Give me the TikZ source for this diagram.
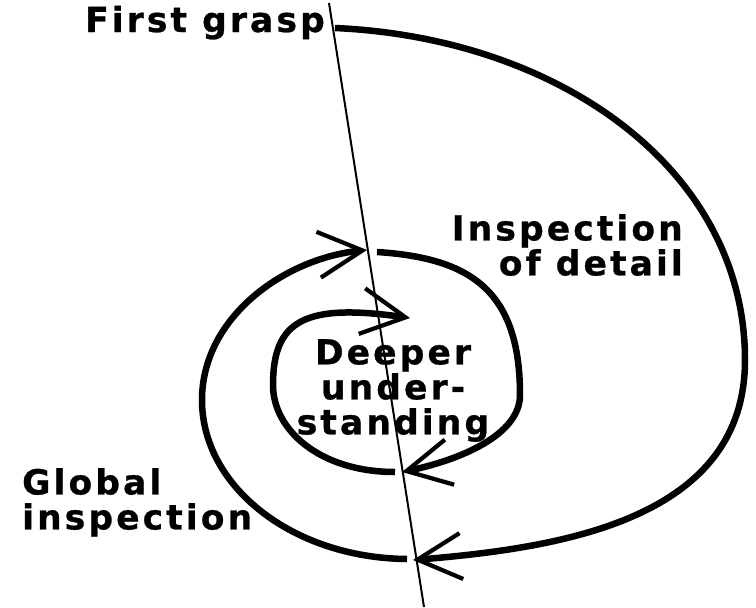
\documentclass[tikz,border=0pt]{standalone}
\usepackage{fontspec}
\newfontfamily\labelfont{DejaVu Sans}[LetterSpace=9, FakeBold=0.8]
\usetikzlibrary{arrows.meta}

\begin{document}
\begin{tikzpicture}[x=1pt, y=-1pt,
  spiral/.style={line width=6.5pt, -{Straight Barb[length=44pt,width=46pt,line width=4.2pt]}},
  guide/.style={line width=2pt},
  lbl/.style={inner sep=0pt, font=\labelfont\bfseries\fontsize{34.5}{35}\selectfont}]
  \useasboundingbox (0,0) rectangle (756,608);
  % 斜めの基準線
  \draw[guide] (329,3) -- (424,607);
  % 外側の巻き (First grasp -> 下)
  \draw[spiral] (335,28) .. controls (560,38) and (745,170) .. (745,360)
    .. controls (745,520) and (560,548) .. (413,560);
  % 2番目の巻き (Global inspection)
  \draw[spiral] (407,559) .. controls (293,558) and (202,487) .. (202,400)
    .. controls (202,317) and (285,258) .. (367,250);
  % 3番目の巻き (Inspection of detail)
  \draw[spiral] (377,252) .. controls (470,258) and (520,290) .. (520,395)
    .. controls (520,435) and (460,460) .. (402,472);
  % 内側の巻き (Deeper understanding)
  \draw[spiral] (395,472) .. controls (320,472) and (273,430) .. (273,385)
    .. controls (273,320) and (305,303) .. (410,318);
  % ラベル
  \node[lbl, anchor=base west] (first) at (85,32) {First grasp};
  \node[lbl, anchor=north east, align=right] (detail) at (683,214) {Inspection\\of detail};
  \node[lbl, anchor=north, align=center] (deeper) at (393,339) {Deeper\\under-\\standing};
  \node[lbl, anchor=north west, align=left] (global) at (22,468) {Global\\inspection};
\end{tikzpicture}
\end{document}
